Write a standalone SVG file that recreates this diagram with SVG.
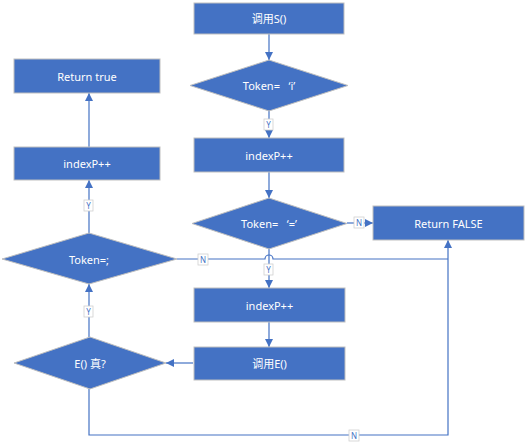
<svg xmlns="http://www.w3.org/2000/svg" width="527" height="448" viewBox="0 0 527 448">
<style>
.n{fill:#4472C4;stroke:#BFBFBF;stroke-width:1}
.t{fill:#fff;font-family:"Noto Sans","Noto Sans CJK SC",sans-serif;font-size:11px;text-anchor:middle;dominant-baseline:central}
.c{fill:none;stroke:#4472C4;stroke-width:1.2}
.lb{fill:#fff;stroke:#D0D0D0;stroke-width:0.8}
.lt{fill:#4472C4;font-family:"Noto Sans",sans-serif;font-size:8px;text-anchor:middle;dominant-baseline:central}
</style>
<defs>
<marker id="a" viewBox="0 0 10 10" refX="10" refY="5" markerWidth="8" markerHeight="8" markerUnits="userSpaceOnUse" orient="auto">
<path d="M0,0 L10,5 L0,10 z" fill="#4472C4"/>
</marker>
</defs>
<rect width="527" height="448" fill="#fff"/>
<g id="connectors">
<path class="c" d="M269,34 V60" marker-end="url(#a)"/>
<path class="c" d="M269,111 V138" marker-end="url(#a)"/>
<path class="c" d="M269,172 V198" marker-end="url(#a)"/>
<path class="c" d="M347,223 H373" marker-end="url(#a)"/>
<path class="c" d="M269,249 V288" marker-end="url(#a)"/>
<path class="c" d="M269,322 V347" marker-end="url(#a)"/>
<path class="c" d="M193,363 H166" marker-end="url(#a)"/>
<path class="c" d="M89,337 V284" marker-end="url(#a)"/>
<path class="c" d="M89,233 V180" marker-end="url(#a)"/>
<path class="c" d="M89,147 V93" marker-end="url(#a)"/>
<path class="c" d="M89,389 V435 H448 V240" marker-end="url(#a)"/>
<path class="c" d="M177,259 H265 A4,4 0 0 1 273,259 H448"/>
<rect class="lb" x="264" y="119" width="9" height="11"/><text class="lt" x="268.5" y="124.5">Y</text>
<rect class="lb" x="354" y="217" width="10" height="11"/><text class="lt" x="359" y="222.5">N</text>
<rect class="lb" x="264" y="264" width="9" height="11"/><text class="lt" x="268.5" y="269.5">Y</text>
<rect class="lb" x="198" y="254" width="10" height="11"/><text class="lt" x="203" y="259.5">N</text>
<rect class="lb" x="84" y="306" width="9" height="11"/><text class="lt" x="88.5" y="311.5">Y</text>
<rect class="lb" x="84" y="200" width="9" height="11"/><text class="lt" x="88.5" y="205.5">Y</text>
<rect class="lb" x="349" y="430" width="10" height="11"/><text class="lt" x="354" y="435.5">N</text>
</g>
<g id="callS"><rect class="n" x="194" y="3" width="150" height="31"/><text class="t" x="269" y="18.5">调用S()</text></g>
<g id="tokenI"><polygon class="n" points="269,60 348,85.5 269,111 190,85.5"/><text class="t" x="269" y="85.5">Token=&#160;&#160;&#160;‘i’</text></g>
<g id="inc1"><rect class="n" x="194" y="138" width="150" height="34"/><text class="t" x="269" y="155">indexP++</text></g>
<g id="tokenEq"><polygon class="n" points="269,198 347,223.5 269,249 192,223.5"/><text class="t" x="269" y="223.5">Token=&#160;&#160;&#160;‘=’</text></g>
<g id="retFalse"><rect class="n" x="373" y="206" width="151" height="34"/><text class="t" x="448.5" y="223">Return FALSE</text></g>
<g id="tokenSemi"><polygon class="n" points="89,233 177,259 89,284 2,259"/><text class="t" x="89" y="259">Token=;</text></g>
<g id="inc2"><rect class="n" x="194" y="288" width="151" height="34"/><text class="t" x="269.5" y="305">indexP++</text></g>
<g id="callE"><rect class="n" x="194" y="347" width="151" height="33"/><text class="t" x="269.5" y="363.5">调用E()</text></g>
<g id="eTrue"><polygon class="n" points="90,337 166,363 90,389 14,363"/><text class="t" x="90" y="363">E() 真?</text></g>
<g id="inc3"><rect class="n" x="14" y="147" width="146" height="33"/><text class="t" x="87" y="163.5">indexP++</text></g>
<g id="retTrue"><rect class="n" x="14" y="59" width="146" height="34"/><text class="t" x="87" y="76">Return true</text></g>
</svg>
